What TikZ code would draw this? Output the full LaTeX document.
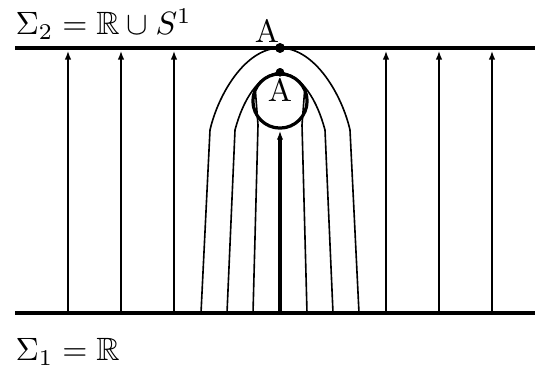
\documentclass[tikz,border=0pt]{standalone}
\usepackage{amssymb}
\usetikzlibrary{arrows.meta}

\begin{document}
\begin{tikzpicture}[x=0.0109cm, y=-0.0109cm,
  sheet/.style={line width=1.5pt},
  flow/.style={line width=0.6pt, -{Latex[length=2.8pt,width=2pt]}},
  fibre/.style={line width=0.5pt},
  pt/.style={circle, fill, inner sep=0pt, minimum size=3pt},
  lbl/.style={inner sep=0pt}
]
\useasboundingbox (0,0) rectangle (535,372);

% the two sheets
\coordinate (topL) at (15,48);
\coordinate (topR) at (535,48);
\coordinate (botL) at (15,313);
\coordinate (botR) at (535,313);

% straight flow lines
\coordinate (b1) at (68,313);  \coordinate (t1) at (68,50.5);
\coordinate (b2) at (121,313); \coordinate (t2) at (121,50.5);
\coordinate (b3) at (174,313); \coordinate (t3) at (174,50.5);
\coordinate (b4) at (386,313); \coordinate (t4) at (386,50.5);
\coordinate (b5) at (439,313); \coordinate (t5) at (439,50.5);
\coordinate (b6) at (492,313); \coordinate (t6) at (492,50.5);
\coordinate (b0) at (280,313);

\node[draw, circle, line width=1pt, minimum size=16.8pt, inner sep=0pt] (ring) at (280,101) {};
\node[pt] (pA) at (280,48) {};
\node[pt, minimum size=2.6pt] (pB) at (ring.north) {};

\draw[flow] (b1) -- (t1);
\draw[flow] (b2) -- (t2);
\draw[flow] (b3) -- (t3);
\draw[flow] (b4) -- (t4);
\draw[flow] (b5) -- (t5);
\draw[flow] (b6) -- (t6);
\draw[flow, line width=1pt] (b0) -- ([yshift=-0.3pt]ring.south);

% bent flow lines around A
\draw[fibre] (201,313) -- (210,130) .. controls (218,95) and (245,48) .. (pA.center);
\draw[fibre] (359,313) -- (350,130) .. controls (342,95) and (315,48) .. (pA.center);
\draw[fibre] (227,313) -- (235,130) .. controls (243,100) and (258,75) .. (pB.center);
\draw[fibre] (333,313) -- (325,130) .. controls (317,100) and (302,75) .. (pB.center);
\draw[fibre] (253,313) -- (258,125) .. controls (257,108) .. (255.5,92);
\draw[fibre] (307,313) -- (302,125) .. controls (303,108) .. (304.5,92);

\draw[sheet] (topL) -- (topR);
\draw[sheet] (botL) -- (botR);
\node[pt] at (pA) {};
\node[pt, minimum size=2.6pt] at (pB) {};

\node[lbl, anchor=base west] (s2) at (15,35) {$\Sigma_2=\mathbb{R}\cup S^1$};
\node[lbl, anchor=base west] (s1) at (15,361) {$\Sigma_1=\mathbb{R}$};
\node[lbl, anchor=base] (lA) at (267,43) {A};
\node[lbl, anchor=base] (lB) at (280,102) {A};
\end{tikzpicture}
\end{document}
